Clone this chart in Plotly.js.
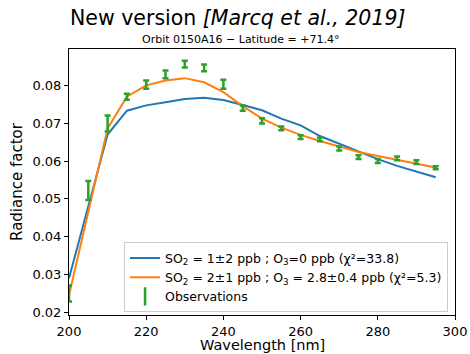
<!DOCTYPE html>
<html>
<head>
<meta charset="utf-8">
<script src="https://cdn.plot.ly/plotly-3.0.1.min.js"></script>
<style>html,body{margin:0;padding:0;background:#fff;}#chart{width:470px;height:354px;}</style>
</head>
<body>
<div id="chart"></div>
<script>
// Wavelengths [nm]
const wavelengths = [200,205,210,215,220,225,230,235,240,245,250,255,260,265,270,275,280,285,290,295];
// Model: SO2 = 1±2 ppb ; O3 = 0 ppb
const modelNoO3 = [0.0290,0.0480,0.0670,0.0733,0.0747,0.0755,0.0764,0.0767,0.0761,0.0748,0.0734,0.0712,0.0694,0.0666,0.0645,0.0624,0.0605,0.0587,0.0571,0.0557];
// Model: SO2 = 2±1 ppb ; O3 = 2.8±0.4 ppb
const modelO3 = [0.0245,0.0466,0.0686,0.0770,0.0800,0.0813,0.0819,0.0808,0.0782,0.0745,0.0712,0.0688,0.0669,0.0653,0.0638,0.0624,0.0613,0.0603,0.0594,0.0583];
// Observations and their errors
const obsValues = [0.0250,0.0522,0.0699,0.0770,0.0802,0.0829,0.0856,0.0846,0.0803,0.0740,0.0706,0.0686,0.0663,0.0657,0.0633,0.0610,0.0600,0.0607,0.0597,0.0582];
const obsErrors = [0.0021,0.0025,0.0021,0.0008,0.0011,0.0010,0.0009,0.0009,0.0012,0.0007,0.0007,0.0005,0.0005,0.0005,0.0005,0.0005,0.0005,0.0005,0.0005,0.0004];
const xTicks = [200,220,240,260,280,300];
const yTicks = [0.02,0.03,0.04,0.05,0.06,0.07,0.08];

const font = 'DejaVu Sans, sans-serif';
const green = '#2ca02c';
const traces = [
  {x: wavelengths, y: modelNoO3, mode: 'lines', type: 'scatter',
   line: {color: '#1f77b4', width: 2},
   name: 'SO<sub>2</sub> = 1±2 ppb ; O<sub>3</sub>=0 ppb (χ²=33.8)'},
  {x: wavelengths, y: modelO3, mode: 'lines', type: 'scatter',
   line: {color: '#ff7f0e', width: 2},
   name: 'SO<sub>2</sub> = 2±1 ppb ; O<sub>3</sub> = 2.8±0.4 ppb (χ²=5.3)'},
  {x: wavelengths, y: obsValues, mode: 'markers', type: 'scatter',
   marker: {size: 0.1, color: 'rgba(0,0,0,0)'},
   error_y: {type: 'data', array: obsErrors, visible: true, color: green, thickness: 2.5, width: 3},
   showlegend: false, name: 'Observations'},
  // legend entry for the observations
  {x: [null], y: [null], mode: 'markers', type: 'scatter',
   marker: {symbol: 'line-ns-open', size: 13, color: green, line: {color: green, width: 2.5}},
   name: 'Observations'}
];

const layout = {
  width: 470, height: 354,
  margin: {l: 69, r: 15, t: 49, b: 38.5},
  paper_bgcolor: '#fff', plot_bgcolor: '#fff',
  font: {family: font, color: '#000', size: 13},
  showlegend: true,
  legend: {x: 0.982, xanchor: 'right', y: 0.01, yanchor: 'bottom',
    bgcolor: 'rgba(255,255,255,0.8)', bordercolor: '#cccccc', borderwidth: 1,
    font: {family: font, size: 12.5}, tracegroupgap: 0, itemwidth: 30},
  xaxis: {range: [200, 300], tickvals: xTicks, ticks: 'outside', ticklen: 4, tickcolor: '#000',
    showgrid: false, zeroline: false, showline: true, linecolor: '#000', linewidth: 1, mirror: true,
    tickfont: {size: 13}},
  yaxis: {range: [0.0193, 0.0896], tickvals: yTicks, tickformat: '.2f', ticks: 'outside', ticklen: 4, tickcolor: '#000',
    showgrid: false, zeroline: false, showline: true, linecolor: '#000', linewidth: 1, mirror: true,
    tickfont: {size: 13}, title: {text: 'Radiance factor', font: {size: 15}, standoff: 6}},
  annotations: [
    {text: 'New version <i>[Marcq et al., 2019]</i>', xref: 'paper', x: -0.002, xanchor: 'left',
     yref: 'paper', y: 1.116, yanchor: 'middle', showarrow: false, font: {size: 20.5, family: font}},
    {text: 'Orbit 0150A16 − Latitude = +71.4°', xref: 'paper', x: 0.445, xanchor: 'center',
     yref: 'paper', y: 1.005, yanchor: 'bottom', showarrow: false, font: {size: 11, family: font}},
    {text: 'Wavelength [nm]', xref: 'paper', x: 0.5, xanchor: 'center',
     yref: 'paper', y: -0.077, yanchor: 'top', showarrow: false, font: {size: 14.5, family: font}}
  ]
};
Plotly.newPlot('chart', traces, layout, {displayModeBar: false, staticPlot: true});
</script>
</body>
</html>
